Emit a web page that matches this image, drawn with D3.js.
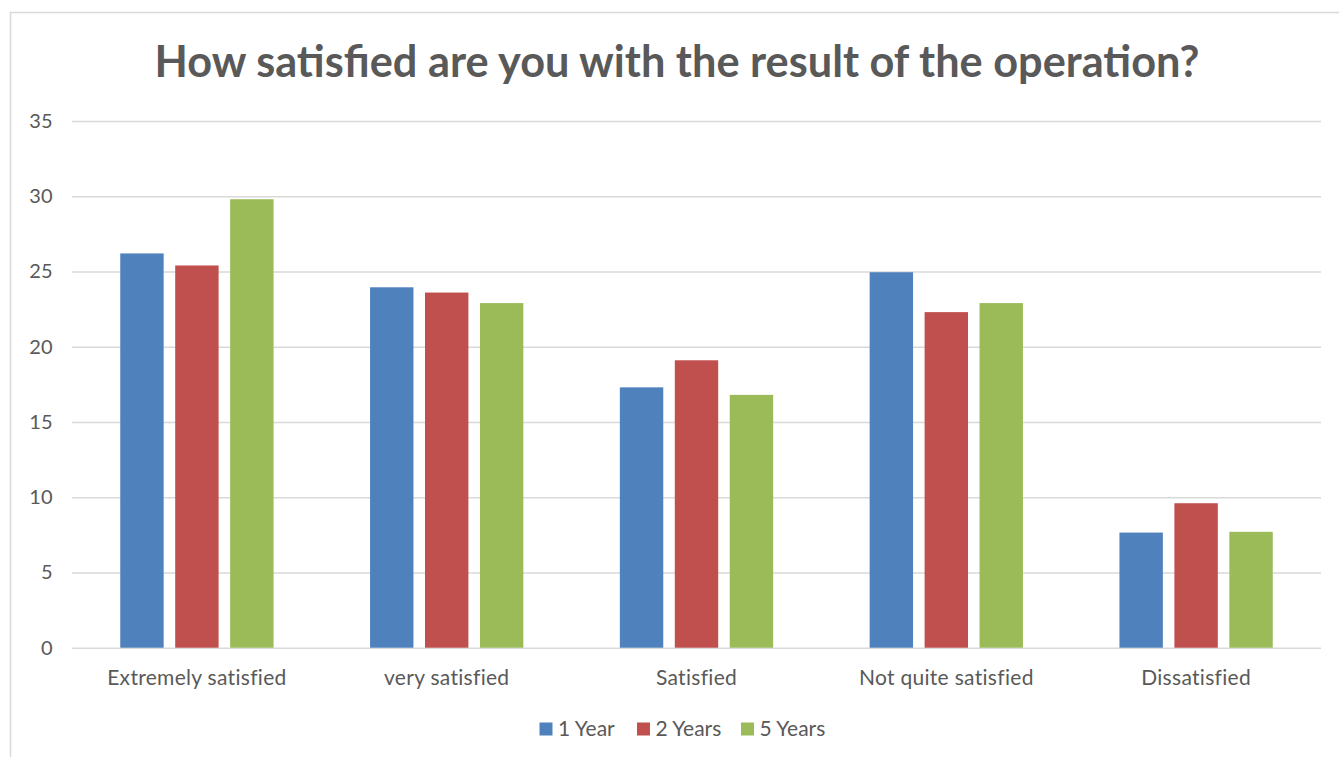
<!DOCTYPE html>
<html>
<head>
<meta charset="utf-8">
<script src="https://cdn.jsdelivr.net/npm/d3@7"></script>
<style>
  html, body { margin: 0; padding: 0; background: #fff; }
  svg { display: block; }
  text { font-family: Lato, "Open Sans", sans-serif; fill: #595959; }
</style>
</head>
<body>
<svg id="chart" width="1339" height="757"></svg>
<script>
// Survey answers per follow-up period (percent of respondents)
const categories = ["Extremely satisfied", "very satisfied", "Satisfied", "Not quite satisfied", "Dissatisfied"];
const seriesNames = ["1 Year", "2 Years", "5 Years"];
const oneYear   = [26.2, 23.95, 17.3, 24.95, 7.65];
const twoYears  = [25.4, 23.6, 19.1, 22.3, 9.6];
const fiveYears = [29.8, 22.9, 16.8, 22.9, 7.7];
const yTicks = [0, 5, 10, 15, 20, 25, 30, 35];
const colors = ["#4f81bd", "#c0504d", "#9bbb59"];
const title = "How satisfied are you with the result of the operation?";

const seriesValues = [oneYear, twoYears, fiveYears];
const rows = categories.map((c, i) => ({
  category: c,
  values: seriesNames.map((s, j) => ({ series: s, value: seriesValues[j][i] }))
}));

const svg = d3.select("#chart");

// chart frame
svg.append("rect")
  .attr("x", 10.5).attr("y", 12.5)
  .attr("width", 1400).attr("height", 800)
  .attr("fill", "none").attr("stroke", "#d9d9d9").attr("stroke-width", 1.5);

const plot = { left: 72, right: 1321, top: 121, bottom: 647.7 };

const y = d3.scaleLinear().domain([0, 35]).range([plot.bottom, plot.top]);
const x0 = d3.scaleBand().domain(categories).range([plot.left, plot.right]).padding(0);
const groupW = 153.3;
const x1 = d3.scaleBand().domain(seriesNames)
  .range([(x0.bandwidth() - groupW) / 2, (x0.bandwidth() + groupW) / 2])
  .paddingInner(0.21).paddingOuter(0);
const color = d3.scaleOrdinal().domain(seriesNames).range(colors);

// gridlines and value labels
const yAxis = d3.axisLeft(y).tickValues(yTicks).tickSize(-(plot.right - plot.left)).tickPadding(20);
const gy = svg.append("g").attr("transform", `translate(${plot.left},0)`).call(yAxis);
gy.select(".domain").remove();
gy.selectAll(".tick line").attr("stroke", "#d9d9d9").attr("stroke-width", 1.5);
gy.selectAll(".tick text")
  .attr("x", 52.5 - plot.left)
  .style("font-size", "20px").style("fill", "#595959")
  .style("font-family", "Lato, 'Open Sans', sans-serif");

// bars
const groups = svg.append("g").selectAll("g").data(rows).join("g")
  .attr("transform", d => `translate(${x0(d.category)},0)`);
groups.selectAll("rect").data(d => d.values).join("rect")
  .attr("x", d => x1(d.series))
  .attr("width", x1.bandwidth())
  .attr("y", d => y(d.value))
  .attr("height", d => y(0) - y(d.value))
  .attr("fill", d => color(d.series));

// category labels
const xAxis = d3.axisBottom(x0).tickSize(0).tickPadding(22);
const gx = svg.append("g").attr("transform", `translate(0,${plot.bottom})`).call(xAxis);
gx.select(".domain").remove();
gx.selectAll(".tick text")
  .style("font-size", "21px").style("fill", "#595959")
  .style("letter-spacing", "0.3px")
  .style("font-family", "Lato, 'Open Sans', sans-serif");

// title, sized to span its line
const t = svg.append("text")
  .attr("x", 677).attr("y", 77)
  .attr("text-anchor", "middle")
  .style("font-weight", "700")
  .style("font-size", "40px")
  .style("fill", "#595959")
  .text(title);
const tw = t.node().getComputedTextLength();
t.style("font-size", (40 * 1045 / tw).toFixed(2) + "px");

// legend
const legendX = [539.5, 637, 741];
const lg = svg.append("g").selectAll("g").data(seriesNames).join("g")
  .attr("transform", (d, i) => `translate(${legendX[i]},722.5)`);
lg.append("rect").attr("width", 13).attr("height", 13).attr("fill", d => color(d));
lg.append("text").attr("x", 18.5).attr("y", 13.5)
  .style("font-size", "21px").text(d => d);
</script>
</body>
</html>
